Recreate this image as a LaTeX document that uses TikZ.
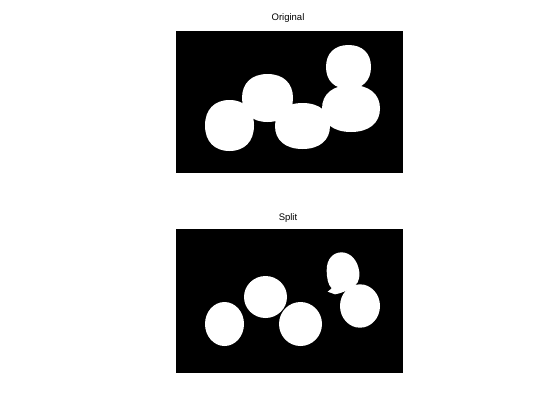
\documentclass[tikz,border=0pt]{standalone}
\usepackage{fontspec}
\setmainfont{Liberation Sans}
\newcommand\sqblobshape[4]{%
  \fill[white, shift={(#1,#2)}, xscale=#3, yscale=#4]
    (1,0) .. controls (1,0.62) and (0.62,1) .. (0,1)
    .. controls (-0.62,1) and (-1,0.62) .. (-1,0)
    .. controls (-1,-0.62) and (-0.62,-1) .. (0,-1)
    .. controls (0.62,-1) and (1,-0.62) .. (1,0) -- cycle;}
\begin{document}
\begin{tikzpicture}[x=1bp,y=-1bp,
  panel/.style={fill=black},
  blob/.style={fill=white},
  title/.style={font=\fontsize{9.5bp}{11bp}\selectfont, inner sep=0pt}]
\useasboundingbox[fill=white] (0,0) rectangle (560,419);
% ---- Original ----
\node[title] (t1) at (288,18) {Original};
\fill[panel] (176,31) rectangle (403,173);
\sqblobshape{229.5}{125.5}{24.5}{25.5}
\sqblobshape{267.5}{98}{25.5}{24}
\sqblobshape{302.5}{126}{27.5}{23}
\sqblobshape{348.5}{67}{22.5}{22}
\sqblobshape{351}{108.5}{29}{23.5}
% ---- Split ----
\node[title] (t2) at (288,218) {Split};
\fill[panel] (176,229) rectangle (403,373);
\fill[blob] (224.5,324) ellipse [x radius=19.5bp, y radius=22bp];
\fill[blob] (265.5,297) ellipse [x radius=21.5bp, y radius=21bp];
\fill[blob] (300.5,324) ellipse [x radius=21.5bp, y radius=22bp];
\fill[blob] (360,306) ellipse [x radius=20bp, y radius=21.7bp];
\fill[blob] (341.7,252.3)
  .. controls (351,252.5) and (358,261) .. (359.3,272)
  .. controls (359.6,277) and (359,280) .. (357.7,282.3)
  .. controls (356,285) and (354,286.5) .. (351.7,287.7)
  .. controls (347,290.5) and (341,293.5) .. (335,294.3)
  -- (327.7,291.7) -- (331.7,288.3)
  .. controls (328,285) and (326.7,278) .. (326.7,270)
  .. controls (326.7,259) and (333,252.3) .. (341.7,252.3) -- cycle;
\end{tikzpicture}
\end{document}
